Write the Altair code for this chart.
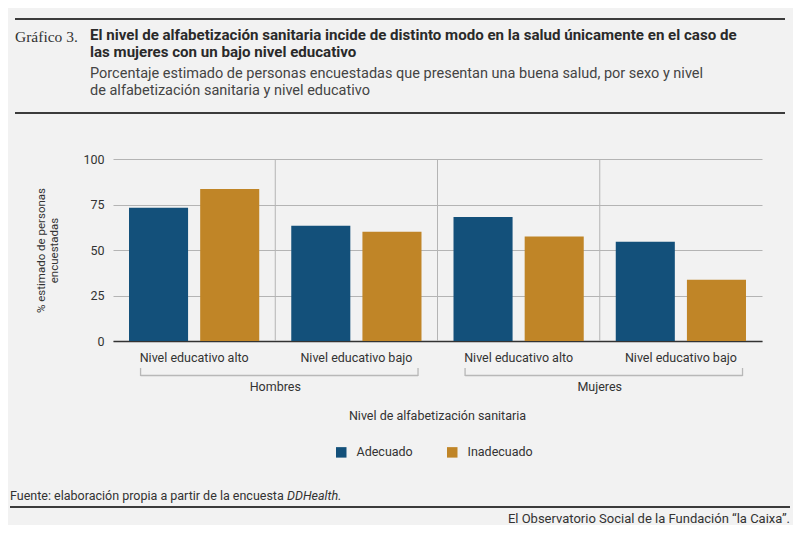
import altair as alt
import pandas as pd

# datos
sexos = ["Hombres", "Hombres", "Mujeres", "Mujeres"]
niveles = ["Nivel educativo alto", "Nivel educativo bajo",
           "Nivel educativo alto", "Nivel educativo bajo"]
adecuado = [73.2, 63.3, 68.1, 54.5]
inadecuado = [83.5, 60.0, 57.4, 33.7]
series = ["Adecuado", "Inadecuado"]
colores = ["#13507a", "#c08527"]

claves = [f"{s}|{n}" for s, n in zip(sexos, niveles)]

filas = []
for k, a, i in zip(claves, adecuado, inadecuado):
    filas.append({"grupo": k, "serie": "Adecuado", "valor": a})
    filas.append({"grupo": k, "serie": "Inadecuado", "valor": i})
df = pd.DataFrame(filas)

corchetes = pd.DataFrame({
    "sexo": ["Hombres", "Mujeres"],
    "inicio": [claves[0], claves[2]],
    "fin": [claves[1], claves[3]],
})
separadores = pd.DataFrame({"grupo": claves[1:]})

FUENTE = "Roboto, sans-serif"
GRIS_TXT = "#333333"
W, H = 649, 182
x_scale = alt.Scale(domain=claves)
x_axis = alt.Axis(title=None, labelAngle=0, ticks=False, domainColor="#333333",
                  domainWidth=1.5, labelPadding=10, labelFontSize=12.5,
                  labelColor=GRIS_TXT, labelExpr="split(datum.label, '|')[1]")

barras = alt.Chart(df).mark_bar().encode(
    x=alt.X("grupo:N", scale=alt.Scale(domain=claves, paddingInner=0, paddingOuter=0),
            axis=x_axis),
    xOffset=alt.XOffset("serie:N", scale=alt.Scale(paddingInner=0.17, paddingOuter=0.225)),
    y=alt.Y("valor:Q", scale=alt.Scale(domain=[0, 100]),
            axis=alt.Axis(values=[0, 25, 50, 75, 100], domain=False, ticks=False,
                          gridColor="#b4b4b4", labelPadding=9, labelFontSize=12.5,
                          labelColor=GRIS_TXT,
                          title=["% estimado de personas", "encuestadas"],
                          titleFontWeight="normal", titleFontSize=11.5,
                          titleColor=GRIS_TXT, titlePadding=23, titleLineHeight=13)),
    color=alt.Color("serie:N", scale=alt.Scale(domain=series, range=colores),
                    legend=alt.Legend(title=None, orient="none", direction="horizontal",
                                      legendX=222, legendY=287, symbolType="square",
                                      symbolSize=110, symbolStrokeWidth=0,
                                      labelFontSize=12.5, labelColor=GRIS_TXT,
                                      columnPadding=33, labelOffset=9)),
)

lineas_v = alt.Chart(separadores).mark_rule(color="#b4b4b4").encode(
    x=alt.X("grupo:N", scale=x_scale, bandPosition=0, axis=x_axis),
    y=alt.value(0), y2=alt.value(H),
)

corchete = alt.Chart(corchetes).mark_rule(color="#b8b8b8", strokeWidth=1.3).encode(
    x=alt.X("inicio:N", scale=x_scale, bandPosition=0.17, axis=x_axis),
    x2=alt.X2("fin:N", bandPosition=0.88),
    y=alt.value(216.5),
)
pata_izq = alt.Chart(corchetes).mark_rule(color="#b8b8b8", strokeWidth=1.3).encode(
    x=alt.X("inicio:N", scale=x_scale, bandPosition=0.17, axis=x_axis),
    y=alt.value(209), y2=alt.value(217),
)
pata_der = alt.Chart(corchetes).mark_rule(color="#b8b8b8", strokeWidth=1.3).encode(
    x=alt.X("fin:N", scale=x_scale, bandPosition=0.88, axis=x_axis),
    y=alt.value(209), y2=alt.value(217),
)
etiqueta_sexo = alt.Chart(corchetes).mark_text(
    font=FUENTE, fontSize=12.5, color=GRIS_TXT, baseline="middle"
).encode(
    x=alt.X("fin:N", scale=x_scale, bandPosition=0, axis=x_axis),
    y=alt.value(228),
    text="sexo:N",
)


def texto(s, x, y, size=12.5, **kw):
    opts = dict(font=FUENTE, fontSize=size, color=GRIS_TXT, align="left",
                baseline="middle")
    opts.update(kw)
    return alt.Chart(alt.Data(values=[{}])).mark_text(text=s, **opts).encode(
        x=alt.value(x), y=alt.value(y))


def linea(x1, x2, y, width=2.2, color="#3c3c3c"):
    return alt.Chart(alt.Data(values=[{}])).mark_rule(
        color=color, strokeWidth=width).encode(
        x=alt.value(x1), x2=alt.value(x2), y=alt.value(y))


OX, OY = 113, 159  # origen del área de dibujo en la página

decoracion = [
    linea(15 - OX, 785 - OX, 19 - OY),
    linea(15 - OX, 785 - OX, 113 - OY),
    linea(10 - OX, 790 - OX, 507 - OY),
    texto("Gráfico 3.", 15 - OX, 37 - OY, 15.5, font="Liberation Serif"),
    texto(["El nivel de alfabetización sanitaria incide de distinto modo en la salud únicamente en el caso de",
           "las mujeres con un bajo nivel educativo"],
          90 - OX, 35 - OY, 15.1, fontWeight="bold", lineHeight=17, color="#2a2a2a"),
    texto(["Porcentaje estimado de personas encuestadas que presentan una buena salud, por sexo y nivel",
           "de alfabetización sanitaria y nivel educativo"],
          90 - OX, 74 - OY, 14.5, lineHeight=17, color="#444444"),
    texto("Nivel de alfabetización sanitaria", W / 2, 416 - OY, 12.5, align="center"),
    texto("Fuente: elaboración propia a partir de la encuesta", 10 - OX, 496 - OY, 12.5),
    texto("DDHealth.", 287 - OX, 496 - OY, 12.5, fontStyle="italic"),
    texto("El Observatorio Social de la Fundación “la Caixa”.", 790 - OX, 519 - OY, 13,
          align="right"),
]

chart = alt.layer(
    lineas_v, barras, corchete, pata_izq, pata_der, etiqueta_sexo, *decoracion
).properties(
    width=W, height=H,
    padding={"left": OX - 8, "top": OY - 8, "right": 801 - 16 - (OX - 8) - W,
             "bottom": 533 - 16 - (OY - 8) - H},
    autosize=alt.AutoSizeParams(type="none"),
    background="#f2f2f2",
).configure_view(
    strokeWidth=0
).configure_axis(
    labelFont=FUENTE, titleFont=FUENTE
).configure_legend(
    labelFont=FUENTE
)

chart.save("out.html", embed_options={"renderer": "svg", "actions": False})
